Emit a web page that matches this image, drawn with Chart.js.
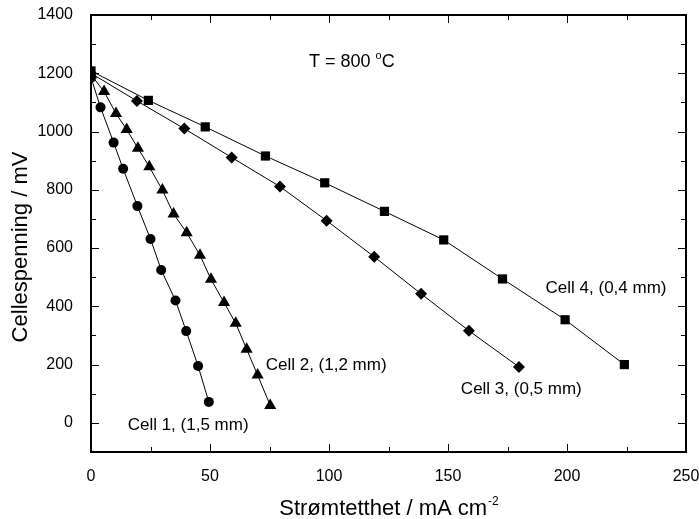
<!DOCTYPE html>
<html>
<head>
<meta charset="utf-8">
<script src="https://cdn.jsdelivr.net/npm/chart.js@4"></script>
<style>
  html, body { margin: 0; padding: 0; background: #fff; }
  #wrap { width: 699px; height: 519px; }
</style>
</head>
<body>
<div id="wrap"><canvas id="chart" width="699" height="519"></canvas></div>
<script>
// values
const cell1X = [0, 4, 9.5, 13.5, 19.5, 25, 29.5, 35.5, 40, 45, 49.5];
const cell1Y = [1185, 1083, 962, 872, 744, 631, 525, 420, 315, 195, 72];

const cell2X = [0, 5.5, 10.5, 15, 19.7, 24.5, 30, 34.7, 40.2, 45.8, 50.4, 55.9, 60.8, 65.4, 70, 75.3];
const cell2Y = [1195, 1137, 1062, 1007, 943, 879, 799, 717, 653, 575, 493, 413, 342, 253, 164, 60];

const cell3X = [0, 19.3, 39.2, 59.1, 79.4, 99, 119, 138.7, 158.8, 179.8];
const cell3Y = [1200, 1105, 1010, 911, 811, 694, 570, 443, 316, 192];

const cell4X = [0, 24.1, 48, 73.3, 98.2, 123.3, 148.2, 172.9, 199.2, 224.1];
const cell4Y = [1208, 1107, 1016, 916, 824, 726, 628, 494, 354, 200];

const xTicks = [0, 50, 100, 150, 200, 250];
const xMinorTicks = [25, 75, 125, 175, 225];
const yTicks = [0, 200, 400, 600, 800, 1000, 1200, 1400];
const yMinorTicks = [-100, 100, 300, 500, 700, 900, 1100, 1300];

// text labels, left edge / baseline given in data units
const seriesLabels = [
  { text: 'Cell 1, (1,5 mm)', x: 15.4, y: -25 },
  { text: 'Cell 2, (1,2 mm)', x: 73.4, y: 183 },
  { text: 'Cell 3, (0,5 mm)', x: 155.4, y: 98 },
  { text: 'Cell 4, (0,4 mm)', x: 191, y: 447 }
];

const FONT = '"Liberation Sans", Arial, sans-serif';

const toPoints = (xs, ys) => xs.map((x, i) => ({ x: x, y: ys[i] }));

const makeSet = (label, xs, ys, style, radius) => ({
  label: label,
  data: toPoints(xs, ys),
  borderColor: '#000',
  borderWidth: 1,
  backgroundColor: '#000',
  pointStyle: style,
  pointRadius: radius,
  pointBorderWidth: 0,
  pointBackgroundColor: '#000',
  showLine: true,
  tension: 0,
  clip: 0
});

const framePlugin = {
  id: 'frame',
  afterDraw(chart) {
    const ctx = chart.ctx;
    const a = chart.chartArea;
    const xs = chart.scales.x;
    const ys = chart.scales.y;
    ctx.save();
    ctx.strokeStyle = '#000';

    // inward ticks on all four sides
    ctx.lineWidth = 1;
    const tickX = (vals, len) => vals.forEach(v => {
      const p = Math.round(xs.getPixelForValue(v)) + 0.5;
      ctx.beginPath();
      ctx.moveTo(p, a.bottom); ctx.lineTo(p, a.bottom - len);
      ctx.moveTo(p, a.top); ctx.lineTo(p, a.top + len);
      ctx.stroke();
    });
    const tickY = (vals, len) => vals.forEach(v => {
      const p = Math.round(ys.getPixelForValue(v)) + 0.5;
      ctx.beginPath();
      ctx.moveTo(a.left, p); ctx.lineTo(a.left + len, p);
      ctx.moveTo(a.right, p); ctx.lineTo(a.right - len, p);
      ctx.stroke();
    });
    tickX(xTicks, 8); tickX(xMinorTicks, 5);
    tickY(yTicks, 8); tickY(yMinorTicks, 5);

    // frame
    ctx.lineWidth = 2;
    ctx.strokeRect(a.left, a.top, a.right - a.left, a.bottom - a.top);

    // annotations
    ctx.fillStyle = '#000';
    ctx.font = '17px ' + FONT;
    ctx.textAlign = 'left';
    ctx.textBaseline = 'alphabetic';
    seriesLabels.forEach(l => {
      ctx.fillText(l.text, xs.getPixelForValue(l.x), ys.getPixelForValue(l.y));
    });

    // T = 800 °C
    const tx = xs.getPixelForValue(91.6);
    const ty = ys.getPixelForValue(1223);
    ctx.font = '18px ' + FONT;
    const t1 = 'T = 800 ';
    ctx.fillText(t1, tx, ty);
    let w = ctx.measureText(t1).width;
    ctx.font = '11px ' + FONT;
    ctx.fillText('o', tx + w, ty - 8);
    w += ctx.measureText('o').width;
    ctx.font = '18px ' + FONT;
    ctx.fillText('C', tx + w, ty);

    // x axis title with superscript
    ctx.font = '22px ' + FONT;
    const main = 'Strømtetthet / mA cm';
    const sup = '-2';
    const mw = ctx.measureText(main).width;
    ctx.font = '12px ' + FONT;
    const sw = ctx.measureText(sup).width;
    const cx = (a.left + a.right) / 2;
    const startX = cx - (mw + sw) / 2;
    ctx.font = '22px ' + FONT;
    ctx.fillText(main, startX, 515);
    ctx.font = '12px ' + FONT;
    ctx.fillText(sup, startX + mw + 1, 505);

    // y axis title
    ctx.save();
    ctx.translate(27, 247);
    ctx.rotate(-Math.PI / 2);
    ctx.font = '22px ' + FONT;
    ctx.textAlign = 'center';
    ctx.textBaseline = 'alphabetic';
    ctx.fillText('Cellespenning / mV', 0, 0);
    ctx.restore();

    ctx.restore();
  }
};

new Chart(document.getElementById('chart'), {
  type: 'scatter',
  data: {
    datasets: [
      makeSet('Cell 1', cell1X, cell1Y, 'circle', 5),
      makeSet('Cell 2', cell2X, cell2Y, 'triangle', 7),
      makeSet('Cell 3', cell3X, cell3Y, 'rectRot', 6),
      makeSet('Cell 4', cell4X, cell4Y, 'rect', 6.5)
    ]
  },
  options: {
    responsive: false,
    animation: false,
    layout: { padding: { left: 0, top: 15, right: 13, bottom: 0 } },
    plugins: {
      legend: { display: false },
      tooltip: { enabled: false }
    },
    scales: {
      x: {
        type: 'linear',
        min: 0,
        max: 250,
        grid: { display: false },
        border: { display: false },
        afterBuildTicks: s => { s.ticks = xTicks.map(v => ({ value: v })); },
        afterFit: s => { s.height = 67; s.paddingLeft = 0; s.paddingRight = 0; },
        ticks: {
          color: '#000',
          padding: 7,
          maxRotation: 0,
          callback: v => String(v),
          font: { family: FONT, size: 16 }
        }
      },
      y: {
        type: 'linear',
        min: -100,
        max: 1400,
        grid: { display: false },
        border: { display: false },
        afterBuildTicks: s => { s.ticks = yTicks.map(v => ({ value: v })); },
        afterFit: s => { s.width = 91; s.paddingTop = 0; s.paddingBottom = 0; },
        ticks: {
          color: '#000',
          padding: 10,
          callback: v => String(v),
          font: { family: FONT, size: 16 }
        }
      }
    }
  },
  plugins: [framePlugin]
});
</script>
</body>
</html>
